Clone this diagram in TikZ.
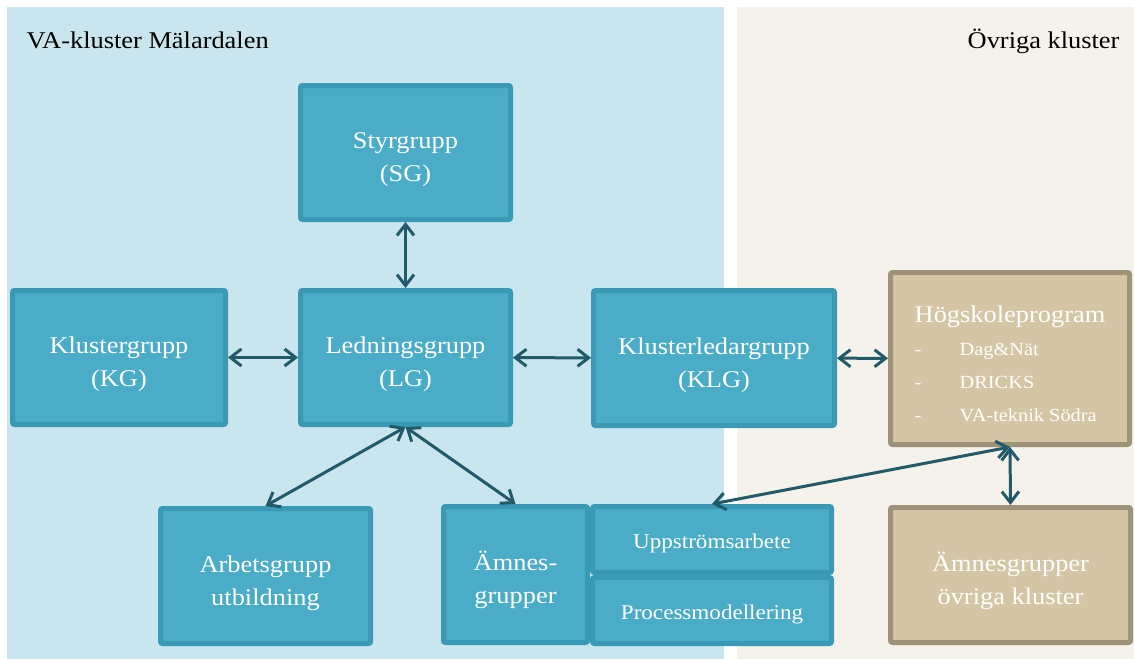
\documentclass[tikz,border=0pt]{standalone}
\usepackage{fontspec}
\setmainfont{Liberation Serif}[FakeStretch=1.1]
\usepackage{xcolor}
\usepackage{tikz}
\usetikzlibrary{arrows.meta,positioning}

\definecolor{panelblue}{HTML}{C9E5EE}
\definecolor{panelsand}{HTML}{F5F2EB}
\definecolor{tealfill}{HTML}{4AACC6}
\definecolor{tealedge}{HTML}{3A9AB5}
\definecolor{tanfill}{HTML}{D4C6A5}
\definecolor{tanedge}{HTML}{9E9278}
\definecolor{arrowc}{HTML}{215A69}

\begin{document}
\begin{tikzpicture}[
    x=1pt, y=-1pt,
    >={Straight Barb[length=11pt,width=17pt]},
    block/.style={rectangle, draw=tealedge, fill=tealfill, line width=5pt, rounded corners=2pt,
        text=white, align=center, inner sep=0pt, font=\fontsize{24}{33}\selectfont,
        text height=63pt, text depth=5pt},
    tanblock/.style={block, draw=tanedge, fill=tanfill},
    subblock/.style={block, minimum width=239pt, minimum height=66pt, font=\fontsize{21}{28}\selectfont,
        text height=21pt, text depth=3pt},
    arrow/.style={<->, line width=3pt, draw=arrowc}
]
    \useasboundingbox (0,0) rectangle (1134,659);

    % the two clusters
    \fill[panelblue] (7,7) rectangle (724,659);
    \fill[panelsand] (737,7) rectangle (1134,659);
    \node[anchor=base west, font=\fontsize{24}{28}\selectfont] (mal) at (23,48) {VA-kluster Mälardalen};
    \node[anchor=base east, font=\fontsize{24}{28}\selectfont] (ovk) at (1123,48) {Övriga kluster};

    \node[block, minimum width=210pt, minimum height=134pt] (sg) at (405.5,152.5) {Styrgrupp\\(SG)};
    \node[block, minimum width=213pt, minimum height=134pt] (kg) at (119,357.5) {Klustergrupp\\(KG)};
    \node[block, minimum width=210pt, minimum height=134pt] (lg) at (405.5,357.5) {Ledningsgrupp\\(LG)};
    \node[block, minimum width=241pt, minimum height=135pt] (klg) at (714,358) {Klusterledargrupp\\(KLG)};
    \node[block, minimum width=210pt, minimum height=135pt] (ag) at (265.5,576) {Arbetsgrupp\\utbildning};
    \node[block, minimum width=144pt, minimum height=136pt] (amn) at (515.5,574.5) {Ämnes-\\grupper};
    \node[subblock] (upp) at (712,539.5) {Uppströmsarbete};
    \node[subblock] (proc) at (712,610.5) {Processmodellering};

    \node[tanblock, minimum width=239pt, minimum height=172pt, text height=, text depth=] (hp) at (1010,358.5) {%
        \fontsize{18.5}{33}\selectfont
        \raisebox{-7pt}[\height][\depth]{%
        \begin{tabular}{@{}l@{}l@{}}
            \multicolumn{2}{@{}c@{}}{\fontsize{24}{33}\selectfont Högskoleprogram}\\
            \makebox[45pt][l]{-} & Dag\&Nät\\
            \makebox[45pt][l]{-} & DRICKS\\
            \makebox[45pt][l]{-} & VA-teknik Södra
        \end{tabular}}};
    \node[tanblock, minimum width=240pt, minimum height=135pt] (ovr) at (1010.5,575) {Ämnesgrupper\\övriga kluster};

    \draw[arrow] (sg) -- (lg);
    \draw[arrow] (kg) -- (lg);
    \draw[arrow] (lg) -- (klg);
    \draw[arrow] (klg) -- (hp);
    \draw[arrow] (lg.south) -- (ag.north);
    \draw[arrow] (lg.south) -- (amn.north);
    \draw[arrow] (hp.south) -- (upp.north);
    \draw[arrow] (hp.south) -- (ovr.north);
\end{tikzpicture}
\end{document}
